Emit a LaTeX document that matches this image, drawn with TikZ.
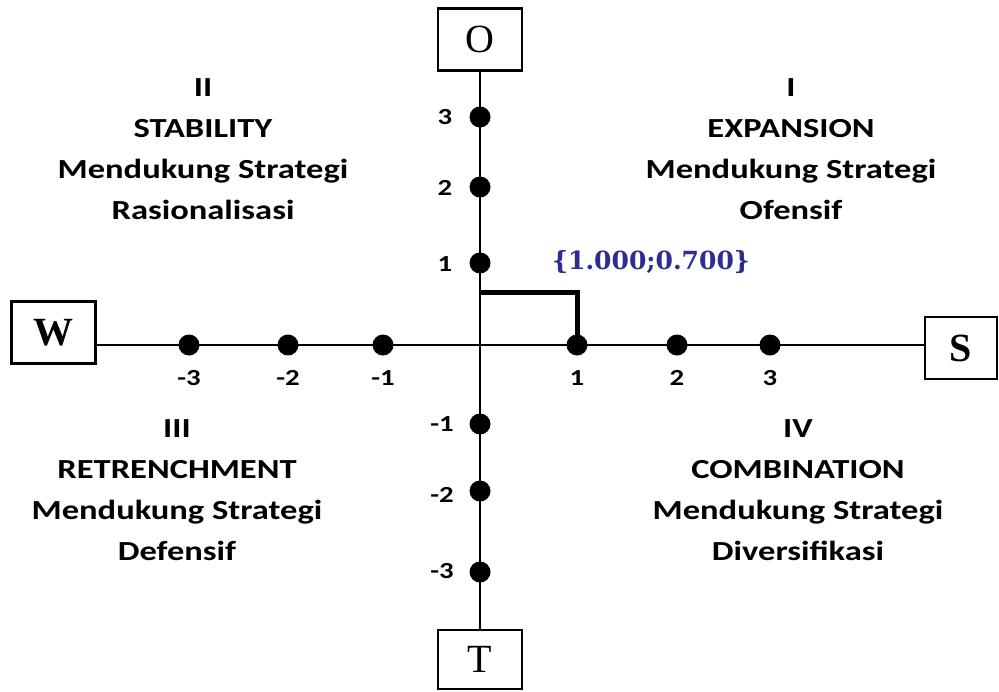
\documentclass[tikz,border=0pt]{standalone}
\usepackage{fontspec}
\usetikzlibrary{positioning}
\newfontfamily\quadfont[FakeStretch=1.25]{Carlito}
\newfontfamily\letterfont{Liberation Serif}
\newfontfamily\pointfont{DejaVu Serif}
\definecolor{pointblue}{RGB}{45,45,145}

\begin{document}
\begin{tikzpicture}[
  x=0.5pt, y=-0.5pt,
  sidebox/.style={draw, line width=1.2pt, minimum width=42pt, minimum height=31pt, inner sep=0pt, font=\letterfont\fontsize{20}{24}\selectfont},
  dotnode/.style={circle, fill=black, minimum size=10.5pt, inner sep=0pt},
  ticklab/.style={font=\quadfont\bfseries\fontsize{11.5}{13}\selectfont, inner sep=0pt},
  quadtext/.style={align=center, font=\quadfont\bfseries\fontsize{13.8}{20.5}\selectfont},
  axis/.style={line width=1pt},
]
  \useasboundingbox (0,0) rectangle (999,691);
  % the four sides
  \node[sidebox] (O) at (480,39.5) {O};
  \node[sidebox] (W) at (53.5,332.5) {\bfseries W};
  \node[sidebox, minimum width=36pt] (S) at (961,348) {\bfseries S};
  \node[sidebox, minimum height=29.5pt] (T) at (480,659.5) {T};
  \coordinate (C) at (480,345);
  \draw[axis] (O.south) -- (T.north);
  \draw[axis] (W.east |- C) -- (S.west |- C);
  % points on the axes
  \node[dotnode] (xm3) at (189,345) {};
  \node[dotnode] (xm2) at (288,345) {};
  \node[dotnode] (xm1) at (383,345) {};
  \node[dotnode] (x1)  at (577,345) {};
  \node[dotnode] (x2)  at (677,345) {};
  \node[dotnode] (x3)  at (770,345) {};
  \node[dotnode] (y3)  at (480,117) {};
  \node[dotnode] (y2)  at (480,187) {};
  \node[dotnode] (y1)  at (480,263) {};
  \node[dotnode] (ym1) at (480,424) {};
  \node[dotnode] (ym2) at (480,491) {};
  \node[dotnode] (ym3) at (480,572) {};
  \node[ticklab] (lxm3) at (189,378) {-3};
  \node[ticklab] (lxm2) at (288,378) {-2};
  \node[ticklab] (lxm1) at (383,378) {-1};
  \node[ticklab] (lx1)  at (577,378) {1};
  \node[ticklab] (lx2)  at (677,378) {2};
  \node[ticklab] (lx3)  at (770,378) {3};
  \node[ticklab] (ly3)  at (445,117) {3};
  \node[ticklab] (ly2)  at (445,188) {2};
  \node[ticklab] (ly1)  at (445,264) {1};
  \node[ticklab] (lym1) at (442,424) {-1};
  \node[ticklab] (lym2) at (442,495) {-2};
  \node[ticklab] (lym3) at (442,571) {-3};
  % position of the firm
  \coordinate (P) at (577,292);
  \draw[line width=2.5pt] (C |- P) -- (P) -- (x1.center);
  \node[font=\pointfont\bfseries\fontsize{12.5}{15}\selectfont, text=pointblue] (pval) at (651,262) {\{1.000;0.700\}};
  % quadrants
  \node[quadtext] (q1) at (791,149) {I\\EXPANSION\\Mendukung Strategi\\Ofensif};
  \node[quadtext] (q2) at (203,149) {II\\STABILITY\\Mendukung Strategi\\Rasionalisasi};
  \node[quadtext] (q3) at (177,490) {III\\RETRENCHMENT\\Mendukung Strategi\\Defensif};
  \node[quadtext] (q4) at (798,490) {IV\\COMBINATION\\Mendukung Strategi\\Diversifikasi};
\end{tikzpicture}
\end{document}
